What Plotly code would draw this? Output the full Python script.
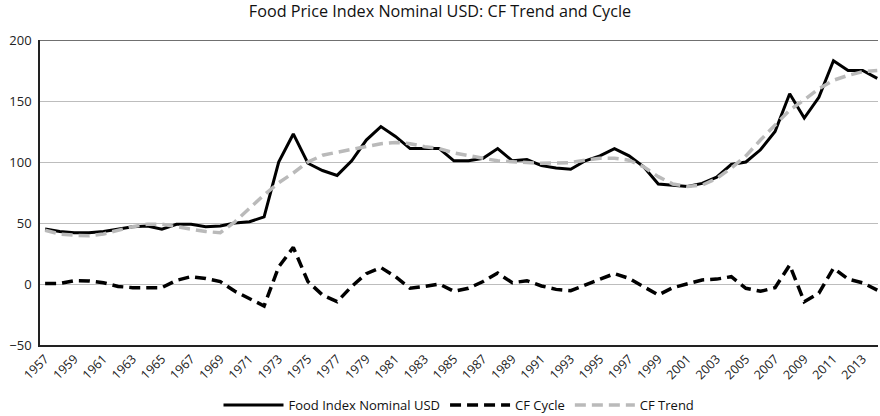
import plotly.graph_objects as go

years = list(range(1957, 2015))

food_index = [45, 43, 42, 42, 43, 45, 47, 47.5, 45, 49, 49, 47, 47.5, 50, 51, 55,
              100, 123, 99, 93, 89, 101, 118, 129, 121, 111, 111, 111, 101, 101,
              103, 111, 101, 102, 97, 95, 94, 101, 105, 111, 105, 96, 82, 81,
              80, 82.5, 87.5, 98, 100, 110, 125, 156, 136, 153, 183, 175, 175, 168.5]

cf_trend = [44, 41, 40, 39.5, 41, 44, 47, 49, 49, 47, 45, 43, 42, 51, 62, 73,
            83, 91, 100, 105.5, 108, 110.5, 113, 115, 116, 115, 112.5, 111, 107.5, 105,
            103, 101, 100, 99.5, 99, 99, 99.5, 101.5, 103, 103, 101.5, 96, 88, 82,
            80, 81, 86.5, 95, 105, 118, 130, 142.5, 151, 160, 167, 171, 174, 175]

cf_cycle = [0.5, 0.5, 2.7, 2.5, 1, -2, -3, -3, -3, 3, 6, 4.5, 2, -6, -12, -18,
            14, 30, 2, -9, -14.5, -2, 8.5, 13.5, 6, -3.5, -2, 0, -6, -3.5,
            2, 9, 1, 2.7, -1.6, -4.4, -5.5, -1, 3.8, 8.5, 4.6, -2, -9, -3,
            0.5, 3.3, 4, 6, -3.5, -6, -3, 15.5, -14.5, -7.5, 13, 4, 1, -5]

tick_years = list(range(1957, 2014, 2))
y_ticks = [-50, 0, 50, 100, 150, 200]

fig = go.Figure()
fig.add_trace(go.Scatter(x=years, y=food_index, mode="lines", name="Food Index Nominal USD",
                         line=dict(color="#000000", width=3)))
fig.add_trace(go.Scatter(x=years, y=cf_cycle, mode="lines", name="CF Cycle",
                         line=dict(color="#000000", width=3.5, dash="11px,6px")))
fig.add_trace(go.Scatter(x=years, y=cf_trend, mode="lines", name="CF Trend",
                         line=dict(color="#bababa", width=3.5, dash="11px,6px")))

fig.update_layout(
    width=880, height=416,
    margin=dict(l=40, r=2, t=40, b=71, autoexpand=False),
    paper_bgcolor="white", plot_bgcolor="white",
    font=dict(family="Open Sans", size=13, color="#222222"),
    title=dict(text="Food Price Index Nominal USD: CF Trend and Cycle",
               x=0.5, xanchor="center", y=0.974, yanchor="middle",
               font=dict(family="Open Sans", size=16.2, color="#111111")),
    showlegend=True,
    legend=dict(orientation="h", x=0.5, xanchor="center", y=-0.197, yanchor="middle",
                font=dict(size=13, color="#111111"), itemwidth=60),
    shapes=[dict(type="line", xref="paper", yref="y", x0=0, x1=1, y0=200, y1=200,
                 line=dict(color="#404040", width=1.5))],
)
fig.update_xaxes(range=[1956.65, 2014.05], tickmode="array", tickvals=tick_years,
                 ticktext=[str(y) for y in tick_years], tickangle=-45,
                 showgrid=False, showline=True, linecolor="#222222", linewidth=1.5,
                 ticks="", zeroline=False, tickfont=dict(size=12.5))
fig.update_yaxes(range=[-50, 200], tickmode="array", tickvals=y_ticks,
                 showgrid=True, gridcolor="#bdbdbd", gridwidth=1,
                 showline=True, linecolor="#222222", linewidth=1.5,
                 ticks="", zeroline=False, tickfont=dict(size=13), ticklabelstandoff=4)

fig.write_html("out.html", config={"displayModeBar": False},
               post_script="document.body.style.margin='0px';")
